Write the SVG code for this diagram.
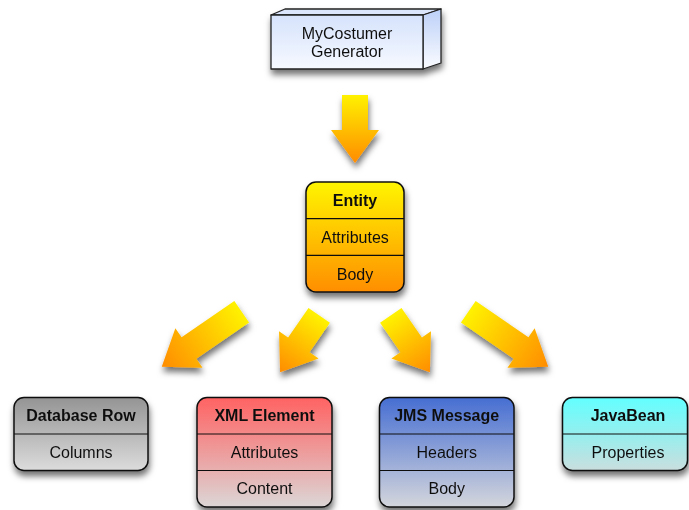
<svg xmlns="http://www.w3.org/2000/svg" width="689" height="510" viewBox="0 0 689 510">
  <style>
    .box { stroke: #111; stroke-width: 1.5; }
    .div { stroke: #111; stroke-width: 1.2; }
    .t { font-family: "Liberation Sans", Arial, sans-serif; font-size: 16px; fill: #111; text-anchor: middle; }
    .b { font-weight: bold; }
    .edge { stroke: #222; stroke-width: 1.3; stroke-linejoin: round; }
  </style>
  <defs>
    <filter id="shadow" x="-20%" y="-20%" width="140%" height="150%">
      <feDropShadow dx="1" dy="5" stdDeviation="3" flood-color="#000" flood-opacity="0.55"/>
    </filter>
    <linearGradient id="gArrow" x1="0" y1="0" x2="1" y2="0">
      <stop offset="0" stop-color="#fff200"/>
      <stop offset="1" stop-color="#ff8c00"/>
    </linearGradient>
    <linearGradient id="gEntity" x1="0" y1="0" x2="0" y2="1">
      <stop offset="0" stop-color="#fff500"/>
      <stop offset="0.5" stop-color="#ffc200"/>
      <stop offset="1" stop-color="#ff8e00"/>
    </linearGradient>
    <linearGradient id="gDb" x1="0" y1="0" x2="0" y2="1">
      <stop offset="0" stop-color="#949494"/>
      <stop offset="1" stop-color="#dcdcdc"/>
    </linearGradient>
    <linearGradient id="gXml" x1="0" y1="0" x2="0" y2="1">
      <stop offset="0" stop-color="#ff6262"/>
      <stop offset="1" stop-color="#dcd6d6"/>
    </linearGradient>
    <linearGradient id="gJms" x1="0" y1="0" x2="0" y2="1">
      <stop offset="0" stop-color="#466ed2"/>
      <stop offset="1" stop-color="#d4d6dc"/>
    </linearGradient>
    <linearGradient id="gBean" x1="0" y1="0" x2="0" y2="1">
      <stop offset="0" stop-color="#62ffff"/>
      <stop offset="1" stop-color="#cadede"/>
    </linearGradient>
    <linearGradient id="gFront" x1="0" y1="0" x2="0" y2="1">
      <stop offset="0" stop-color="#d6e3fc"/>
      <stop offset="1" stop-color="#f6f9ff"/>
    </linearGradient>
    <linearGradient id="gSide" x1="0" y1="0" x2="0" y2="1">
      <stop offset="0" stop-color="#bcd0f8"/>
      <stop offset="1" stop-color="#fbfcff"/>
    </linearGradient>
  </defs>

  <!-- Generator: 3D box -->
  <g id="generator" filter="url(#shadow)">
    <path d="M271,15 L285,9 L441,9 L423,15 Z" fill="#dbe5fb" class="edge"/>
    <path d="M423,15 L441,9 L441,63 L423,69 Z" fill="url(#gSide)" class="edge"/>
    <rect x="271" y="15" width="152" height="54" fill="url(#gFront)" class="edge"/>
    <text class="t" x="347" y="39">MyCostumer</text>
    <text class="t" x="347" y="57">Generator</text>
  </g>

  <!-- Entity -->
  <g id="entity" filter="url(#shadow)">
    <rect x="306" y="182" width="98" height="110" rx="10" fill="url(#gEntity)" class="box"/>
    <line x1="306" y1="218.7" x2="404" y2="218.7" class="div"/>
    <line x1="306" y1="255.3" x2="404" y2="255.3" class="div"/>
    <text class="t b" x="355" y="206">Entity</text>
    <text class="t" x="355" y="243">Attributes</text>
    <text class="t" x="355" y="279.5">Body</text>
  </g>

  <!-- Database Row -->
  <g id="database-row" filter="url(#shadow)">
    <rect x="14" y="397.5" width="134" height="73" rx="10" fill="url(#gDb)" class="box"/>
    <line x1="14" y1="434" x2="148" y2="434" class="div"/>
    <text class="t b" x="81" y="421">Database Row</text>
    <text class="t" x="81" y="457.5">Columns</text>
  </g>

  <!-- XML Element -->
  <g id="xml-element" filter="url(#shadow)">
    <rect x="197" y="397.5" width="135" height="109.5" rx="10" fill="url(#gXml)" class="box"/>
    <line x1="197" y1="434" x2="332" y2="434" class="div"/>
    <line x1="197" y1="470.5" x2="332" y2="470.5" class="div"/>
    <text class="t b" x="264.5" y="421">XML Element</text>
    <text class="t" x="264.5" y="457.5">Attributes</text>
    <text class="t" x="264.5" y="494">Content</text>
  </g>

  <!-- JMS Message -->
  <g id="jms-message" filter="url(#shadow)">
    <rect x="379.5" y="397.5" width="134.5" height="109.5" rx="10" fill="url(#gJms)" class="box"/>
    <line x1="379.5" y1="434" x2="514" y2="434" class="div"/>
    <line x1="379.5" y1="470.5" x2="514" y2="470.5" class="div"/>
    <text class="t b" x="446.7" y="421">JMS Message</text>
    <text class="t" x="446.7" y="457.5">Headers</text>
    <text class="t" x="446.7" y="494">Body</text>
  </g>

  <!-- JavaBean -->
  <g id="javabean" filter="url(#shadow)">
    <rect x="562.5" y="397.5" width="125" height="73" rx="10" fill="url(#gBean)" class="box"/>
    <line x1="562.5" y1="434" x2="687.5" y2="434" class="div"/>
    <text class="t b" x="628" y="421">JavaBean</text>
    <text class="t" x="628" y="457.5">Properties</text>
  </g>

  <!-- Connectors: block arrows (local shape points along +x) -->
  <g id="connectors">
    <g filter="url(#shadow)">
      <path transform="translate(355,95) rotate(90)" d="M0,-13 L35,-13 L35,-24 L68,0 L35,24 L35,13 L0,13 Z" fill="url(#gArrow)"/>
    </g>
    <g filter="url(#shadow)">
      <path transform="translate(241.7,311.7) rotate(145.5)" d="M0,-13 L64,-13 L64,-24 L97,0 L64,24 L64,13 L0,13 Z" fill="url(#gArrow)"/>
    </g>
    <g filter="url(#shadow)">
      <path transform="translate(319.2,315.3) rotate(124.5)" d="M0,-13 L36,-13 L36,-24 L69,0 L36,24 L36,13 L0,13 Z" fill="url(#gArrow)"/>
    </g>
    <g filter="url(#shadow)">
      <path transform="translate(390.8,315.3) rotate(55.5)" d="M0,-13 L36,-13 L36,-24 L69,0 L36,24 L36,13 L0,13 Z" fill="url(#gArrow)"/>
    </g>
    <g filter="url(#shadow)">
      <path transform="translate(468.3,311.7) rotate(34.5)" d="M0,-13 L64,-13 L64,-24 L97,0 L64,24 L64,13 L0,13 Z" fill="url(#gArrow)"/>
    </g>
  </g>
</svg>
